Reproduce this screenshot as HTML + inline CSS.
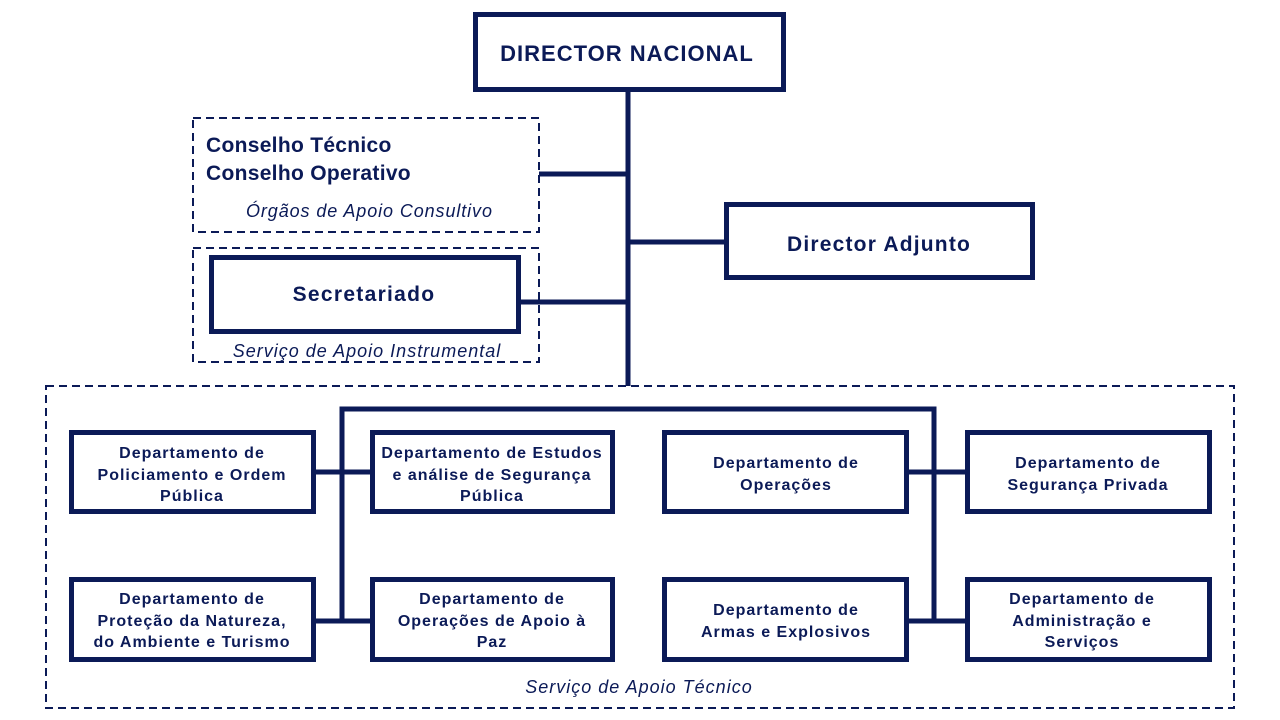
<!DOCTYPE html>
<html><head><meta charset="utf-8"><style>
html,body{margin:0;padding:0;background:#fff;}
svg{display:block;}
text{font-family:"Liberation Sans",Arial,sans-serif;fill:#0b1a57;}
.b{font-weight:bold;}
.i{font-style:italic;}
</style></head><body>
<svg width="1280" height="720" viewBox="0 0 1280 720" xmlns="http://www.w3.org/2000/svg">
<g fill="none" stroke="#0b1a57">
<rect x="193" y="118" width="346" height="114" stroke-width="2" stroke-dasharray="8,5"/>
<rect x="193" y="248" width="346" height="114" stroke-width="2" stroke-dasharray="8,5"/>
<rect x="46" y="386" width="1188" height="322" stroke-width="2" stroke-dasharray="8,5"/>
<rect x="475.5" y="14.5" width="308" height="75" stroke-width="5"/>
<rect x="726.5" y="204.5" width="306" height="73" stroke-width="5"/>
<rect x="211.5" y="257.5" width="307" height="74" stroke-width="5"/>
<rect x="71.5" y="432.5" width="242" height="79" stroke-width="5"/>
<rect x="372.5" y="432.5" width="240" height="79" stroke-width="5"/>
<rect x="664.5" y="432.5" width="242" height="79" stroke-width="5"/>
<rect x="967.5" y="432.5" width="242" height="79" stroke-width="5"/>
<rect x="71.5" y="579.5" width="242" height="80" stroke-width="5"/>
<rect x="372.5" y="579.5" width="240" height="80" stroke-width="5"/>
<rect x="664.5" y="579.5" width="242" height="80" stroke-width="5"/>
<rect x="967.5" y="579.5" width="242" height="80" stroke-width="5"/>
<g stroke-width="5">
<line x1="628" y1="91" x2="628" y2="386"/>
<line x1="539" y1="174" x2="628" y2="174"/>
<line x1="628" y1="242" x2="725" y2="242"/>
<line x1="520" y1="302" x2="628" y2="302"/>
<polyline points="342,621 342,409 934,409 934,621"/>
<line x1="315" y1="472" x2="370" y2="472"/>
<line x1="315" y1="621" x2="370" y2="621"/>
<line x1="908" y1="472" x2="965" y2="472"/>
<line x1="908" y1="621" x2="965" y2="621"/>
</g>
</g>
<text x="627" y="61" class="b" font-size="22" letter-spacing="1" text-anchor="middle">DIRECTOR NACIONAL</text>
<text x="206" y="152" class="b" font-size="21" letter-spacing="0.3">Conselho Técnico</text>
<text x="206" y="180" class="b" font-size="21" letter-spacing="0.3">Conselho Operativo</text>
<text x="246" y="217" class="i" font-size="18" letter-spacing="0.9">Órgãos de Apoio Consultivo</text>
<text x="879" y="251" class="b" font-size="21" letter-spacing="1.2" text-anchor="middle">Director Adjunto</text>
<text x="364" y="301" class="b" font-size="21" letter-spacing="1.3" text-anchor="middle">Secretariado</text>
<text x="367" y="357" class="i" font-size="18" letter-spacing="1" text-anchor="middle">Serviço de Apoio Instrumental</text>
<g class="b" font-size="16" letter-spacing="1" text-anchor="middle">
<text x="192" y="458">Departamento de</text>
<text x="192" y="480">Policiamento e Ordem</text>
<text x="192" y="501">Pública</text>
<text x="492" y="458">Departamento de Estudos</text>
<text x="492" y="480">e análise de Segurança</text>
<text x="492" y="501">Pública</text>
<text x="786" y="468">Departamento de</text>
<text x="786" y="490">Operações</text>
<text x="1088" y="468">Departamento de</text>
<text x="1088" y="490">Segurança Privada</text>
<text x="192" y="604">Departamento de</text>
<text x="192" y="626">Proteção da Natureza,</text>
<text x="192" y="647">do Ambiente e Turismo</text>
<text x="492" y="604">Departamento de</text>
<text x="492" y="626">Operações de Apoio à</text>
<text x="492" y="647">Paz</text>
<text x="786" y="615">Departamento de</text>
<text x="786" y="637">Armas e Explosivos</text>
<text x="1082" y="604">Departamento de</text>
<text x="1082" y="626">Administração e</text>
<text x="1082" y="647">Serviços</text>
</g>
<text x="639" y="693" class="i" font-size="18" letter-spacing="1" text-anchor="middle">Serviço de Apoio Técnico</text>
</svg>
</body></html>
